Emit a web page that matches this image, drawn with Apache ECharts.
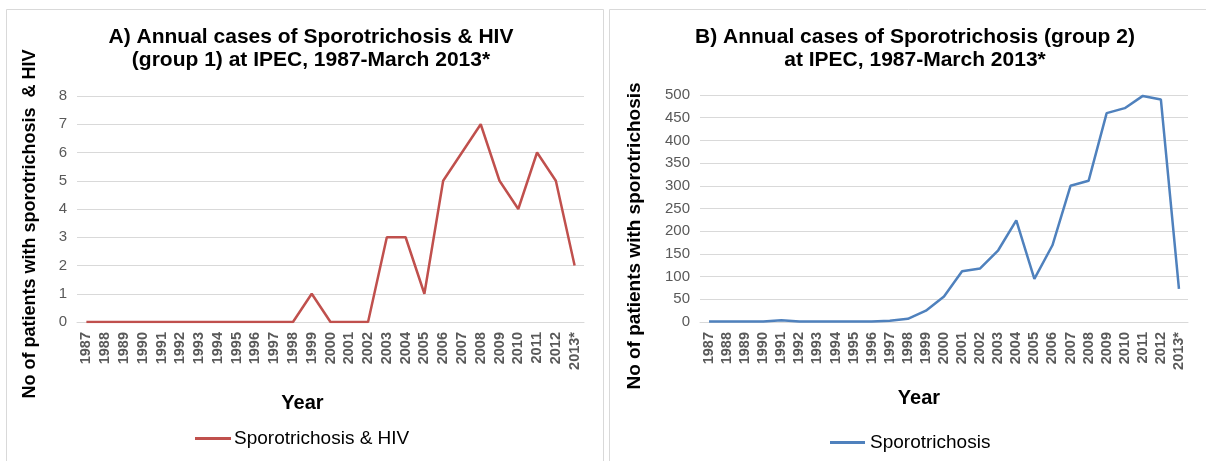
<!DOCTYPE html>
<html>
<head>
<meta charset="utf-8">
<script src="https://cdn.jsdelivr.net/npm/echarts@6/dist/echarts.min.js"></script>
<style>
html,body{margin:0;padding:0;background:#fff;}
#chart{width:1206px;height:461px;}
</style>
</head>
<body>
<div id="chart"></div>
<script>
const years = ['1987','1988','1989','1990','1991','1992','1993','1994','1995','1996','1997','1998','1999','2000','2001','2002','2003','2004','2005','2006','2007','2008','2009','2010','2011','2012','2013*'];
const hivCases = [0,0,0,0,0,0,0,0,0,0,0,0,1,0,0,0,3,3,1,5,6,7,5,4,6,5,2];
const sporoCases = [1,1,1,1,4,1,1,1,1,1,3,7,25,56,112,118,158,224,95,169,300,311,460,471,498,490,73];
const ticksA = [0,1,2,3,4,5,6,7,8];
const ticksB = [0,50,100,150,200,250,300,350,400,450,500];

const FONT = '"Liberation Sans", Arial, sans-serif';
const chart = echarts.init(document.getElementById('chart'));

function xAxisCfg(gridIndex, nameGap, namePad) {
  return {
    type: 'category', gridIndex: gridIndex, data: years, boundaryGap: true,
    axisLine: {show: true, lineStyle: {color: '#d9d9d9', width: 1}},
    axisTick: {show: false},
    axisLabel: {interval: 0, rotate: 90, margin: 10, color: '#595959', fontFamily: FONT, fontSize: 14.5, fontWeight: 'bold'},
    name: 'Year', nameLocation: 'middle', nameGap: nameGap,
    nameTextStyle: {fontFamily: FONT, fontSize: 20, fontWeight: 'bold', color: '#000', padding: namePad}
  };
}
function yAxisCfg(gridIndex, ticks, name, nameSize, nameGap, namePad) {
  return {
    type: 'value', gridIndex: gridIndex, min: ticks[0], max: ticks[ticks.length - 1], interval: ticks[1] - ticks[0],
    axisLine: {show: false}, axisTick: {show: false},
    splitLine: {lineStyle: {color: '#d9d9d9', width: 1}},
    axisLabel: {color: '#595959', fontFamily: FONT, fontSize: 15, margin: 10},
    name: name, nameLocation: 'middle', nameGap: nameGap,
    nameTextStyle: {fontFamily: FONT, fontSize: nameSize, fontWeight: 'bold', color: '#000', padding: namePad}
  };
}

chart.setOption({
  animation: false,
  backgroundColor: '#fff',
  title: [
    {text: 'A) Annual cases of Sporotrichosis & HIV\n(group 1) at IPEC, 1987-March 2013*', left: 306, top: 21, textAlign: 'center',
     textStyle: {fontFamily: FONT, fontSize: 21, fontWeight: 'bold', color: '#000', lineHeight: 23}},
    {text: 'B) Annual cases of Sporotrichosis (group 2)\nat IPEC, 1987-March 2013*', left: 910, top: 21, textAlign: 'center',
     textStyle: {fontFamily: FONT, fontSize: 21, fontWeight: 'bold', color: '#000', lineHeight: 23}}
  ],
  legend: [
    {data: ['Sporotrichosis & HIV'], left: 195, top: 429, padding: 0, icon: 'rect', itemWidth: 36, itemHeight: 3, itemGap: 4,
     textStyle: {fontFamily: FONT, fontSize: 19, color: '#000', padding: [0,0,0,-2]}},
    {data: ['Sporotrichosis'], left: 830, top: 433, padding: 0, icon: 'rect', itemWidth: 35, itemHeight: 3, itemGap: 4,
     textStyle: {fontFamily: FONT, fontSize: 19, color: '#000', padding: [0,0,0,0]}}
  ],
  grid: [
    {left: 77, right: 622, top: 96, bottom: 139},
    {left: 700, right: 18, top: 95, bottom: 139}
  ],
  xAxis: [xAxisCfg(0, 71, [0, 56, 0, 0]), xAxisCfg(1, 66, [0, 50, 0, 0])],
  yAxis: [
    yAxisCfg(0, ticksA, 'No of patients with sporotrichosis  & HIV', 18, 38, [0, 30, 0, 0]),
    yAxisCfg(1, ticksB, 'No of patients with sporotrichosis', 19, 56, [0, 55, 0, 0])
  ],
  series: [
    {name: 'Sporotrichosis & HIV', type: 'line', xAxisIndex: 0, yAxisIndex: 0, data: hivCases, symbol: 'none',
     lineStyle: {color: '#C0504D', width: 2.5}, itemStyle: {color: '#C0504D'}},
    {name: 'Sporotrichosis', type: 'line', xAxisIndex: 1, yAxisIndex: 1, data: sporoCases, symbol: 'none',
     lineStyle: {color: '#4F81BD', width: 2.5}, itemStyle: {color: '#4F81BD'}}
  ],
  graphic: [
    {type: 'rect', shape: {x: 6.5, y: 9.5, width: 597, height: 460}, style: {fill: 'none', stroke: '#d9d9d9', lineWidth: 1}, silent: true},
    {type: 'rect', shape: {x: 609.5, y: 9.5, width: 600, height: 460}, style: {fill: 'none', stroke: '#d9d9d9', lineWidth: 1}, silent: true}
  ]
});
</script>
</body>
</html>
